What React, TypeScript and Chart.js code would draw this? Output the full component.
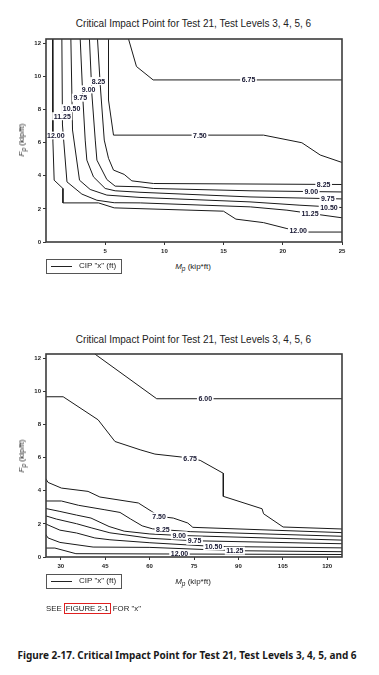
import React, { useEffect, useRef } from "react";
import { Chart, registerables } from "chart.js";
Chart.register(...registerables);

// ---------- shared ----------
const TITLE = "Critical Impact Point for Test 21, Test Levels 3, 4, 5, 6";
const Y_TICKS = [0, 2, 4, 6, 8, 10, 12];
const Y_MAX = 12.25;

// ---------- top chart (Mp 0..25) ----------
const TOP_X_TICKS = [5, 10, 15, 20, 25];
const TOP_X_MIN = 0;
const TOP_X_MAX = 25;
const TOP_L675 = [[6.97, 12.25], [7.64, 10.59], [9.05, 9.78], [25, 9.78]];
const TOP_L750 = [[5.28, 12.25], [5.28, 8.57], [5.7, 6.45], [18.37, 6.45], [21.61, 5.99], [23.16, 5.25], [25, 4.8]];
const TOP_L825 = [[4.35, 12.25], [4.58, 9.48], [4.92, 6.15], [5.28, 5.05], [5.7, 4.34], [6.6, 4.08], [7.25, 3.69], [9.08, 3.53], [25, 3.47]];
const TOP_L900 = [[3.67, 12.25], [3.88, 8.87], [4.16, 6.15], [4.3, 4.94], [5.14, 3.77], [5.84, 3.37], [7.94, 3.33], [9.06, 3.23], [17.23, 3.09], [25, 3.02]];
const TOP_L975 = [[2.89, 12.25], [3.12, 8.57], [3.31, 6.15], [3.45, 4.94], [4.01, 3.93], [5.0, 3.23], [5.84, 3.09], [7.94, 3.0], [17.23, 2.72], [25, 2.6]];
const TOP_L1050 = [[2.1, 12.25], [2.24, 6.76], [2.83, 3.73], [3.73, 3.17], [5.14, 2.83], [7.94, 2.69], [17.23, 2.42], [21.45, 2.22], [25, 2.08]];
const TOP_L1125 = [[1.34, 12.25], [1.39, 7.06], [1.77, 3.63], [3.03, 2.89], [4.3, 2.52], [5.76, 2.37], [7.96, 2.36], [17.25, 2.12], [20.35, 1.92], [25, 1.46]];
const TOP_L1200 = [[0.55, 12.25], [0.58, 6.15], [0.69, 3.73], [1.43, 3.23], [1.43, 2.36], [4.43, 2.36], [5.76, 2.06], [14.99, 1.86], [16.04, 1.38], [18.37, 1.17], [20.35, 0.81], [22.04, 0.6], [25, 0.6]];
const TOP_LINES = [TOP_L675, TOP_L750, TOP_L825, TOP_L900, TOP_L975, TOP_L1050, TOP_L1125, TOP_L1200];
// contour labels: [text, Mp, Fp]
const TOP_LABELS: [string, number, number][] = [
  ["6.75", 17.1, 9.78],
  ["7.50", 13.0, 6.45],
  ["8.25", 4.43, 9.71],
  ["9.00", 3.6, 9.21],
  ["9.75", 2.89, 8.71],
  ["10.50", 2.16, 8.07],
  ["11.25", 1.37, 7.59],
  ["12.00", 0.83, 6.42],
  ["8.25", 23.45, 3.47],
  ["9.00", 22.4, 3.04],
  ["9.75", 23.8, 2.6],
  ["10.50", 23.9, 2.1],
  ["11.25", 22.3, 1.74],
  ["12.00", 21.3, 0.69],
];

// ---------- bottom chart (Mp 25..125) ----------
const BOT_X_TICKS = [30, 45, 60, 75, 90, 105, 120];
const BOT_X_MIN = 25;
const BOT_X_MAX = 125;
const BOT_L600 = [[41.5, 12.25], [62.4, 9.55], [125, 9.55]];
const BOT_L675 = [[24.8, 9.67], [30.8, 9.67], [42.6, 8.28], [48.3, 6.97], [56.8, 6.47], [61.8, 6.21], [70.9, 6.03], [77.1, 5.83], [84.9, 5.05], [84.9, 3.66], [98.0, 2.91], [98.5, 2.61], [105.1, 1.81], [125, 1.69]];
const BOT_L750 = [[24.8, 4.76], [25.7, 4.5], [30.2, 4.16], [39.2, 3.96], [43.2, 3.62], [56.2, 3.26], [60.7, 2.75], [63.2, 2.45], [68.0, 2.35], [72.9, 2.05], [74.6, 1.79], [125, 1.47]];
const BOT_L825 = [[24.8, 3.38], [30.2, 3.38], [36.0, 3.12], [44.9, 2.85], [50.0, 2.69], [53.5, 2.3], [57.5, 1.88], [61.0, 1.7], [64.5, 1.65], [73.7, 1.53], [125, 1.25]];
const BOT_L900 = [[24.8, 2.93], [29.7, 2.75], [35.3, 2.53], [40.2, 2.35], [46.3, 1.84], [51.4, 1.56], [60.1, 1.39], [70.0, 1.3], [125, 1.02]];
const BOT_L975 = [[24.8, 2.49], [28.5, 2.29], [35.3, 2.01], [40.5, 1.75], [46.6, 1.46], [60.1, 1.13], [75.2, 0.98], [125, 0.8]];
const BOT_L1050 = [[24.8, 2.0], [29.7, 1.62], [35.3, 1.45], [41.5, 1.15], [46.6, 1.04], [60.1, 0.86], [81.6, 0.64], [125, 0.55]];
const BOT_L1125 = [[24.8, 1.39], [25.7, 1.15], [29.7, 0.88], [40.9, 0.6], [60.1, 0.58], [88.8, 0.38], [125, 0.32]];
const BOT_L1200 = [[24.8, 0.54], [28.0, 0.54], [35.1, 0.2], [70.1, 0.18], [125, 0.15]];
const BOT_LINES = [BOT_L600, BOT_L675, BOT_L750, BOT_L825, BOT_L900, BOT_L975, BOT_L1050, BOT_L1125, BOT_L1200];
const BOT_LABELS: [string, number, number][] = [
  ["6.00", 78.8, 9.55],
  ["6.75", 73.7, 5.93],
  ["7.50", 63.2, 2.45],
  ["8.25", 64.5, 1.65],
  ["9.00", 70.0, 1.3],
  ["9.75", 75.2, 0.98],
  ["10.50", 81.6, 0.64],
  ["11.25", 88.8, 0.38],
  ["12.00", 70.1, 0.18],
];

const TICK_FONT = { family: '"Liberation Sans", Arial, sans-serif', size: 6, weight: "bold" as const };

function makeConfig(lines: number[][][], labels: [string, number, number][], xMin: number, xMax: number, xTicks: number[], padTop: number, padBottom: number): any {
  const labelPlugin = {
    id: "contourLabels",
    afterDatasetsDraw(chart: any) {
      const { ctx, chartArea: a } = chart;
      const xs = chart.scales.x;
      const ys = chart.scales.y;
      ctx.save();
      ctx.font = 'bold 7px "Liberation Sans", Arial, sans-serif';
      ctx.textAlign = "center";
      ctx.textBaseline = "middle";
      for (const [t, x, y] of labels) {
        const px = xs.getPixelForValue(x);
        const py = ys.getPixelForValue(y);
        const w = ctx.measureText(t).width;
        ctx.fillStyle = "#ffffff";
        ctx.fillRect(px - w / 2 - 1.5, py - 4, w + 3, 8);
        ctx.fillStyle = "#151530";
        ctx.fillText(t, px, py + 0.5);
      }
      ctx.strokeStyle = "#3c3c3c";
      ctx.lineWidth = 1.6;
      ctx.strokeRect(a.left, a.top, a.right - a.left, a.bottom - a.top);
      ctx.restore();
    },
  };
  return {
    type: "scatter",
    data: {
      datasets: lines.map((pts) => ({
        data: pts.map(([x, y]) => ({ x, y })),
        showLine: true,
        borderColor: "#1a1a1a",
        borderWidth: 1,
        pointRadius: 0,
        fill: false,
        tension: 0,
      })),
    },
    options: {
      responsive: false,
      animation: false,
      events: [],
      layout: { padding: { left: 0, right: 37, top: padTop, bottom: padBottom } },
      plugins: { legend: { display: false }, tooltip: { enabled: false }, title: { display: false } },
      scales: {
        x: {
          type: "linear",
          min: xMin,
          max: xMax,
          afterBuildTicks: (s: any) => {
            s.ticks = xTicks.map((v) => ({ value: v }));
          },
          afterFit: (s: any) => {
            s.height = 16;
          },
          border: { display: false },
          grid: { drawOnChartArea: false, drawTicks: true, tickLength: 3, color: "#333" },
          ticks: { font: TICK_FONT, color: "#222", padding: 3, maxRotation: 0, autoSkip: false },
        },
        y: {
          type: "linear",
          min: 0,
          max: Y_MAX,
          afterBuildTicks: (s: any) => {
            s.ticks = Y_TICKS.map((v) => ({ value: v }));
          },
          afterFit: (s: any) => {
            s.width = 46;
          },
          border: { display: false },
          grid: { drawOnChartArea: false, drawTicks: true, tickLength: 3, color: "#333" },
          ticks: { font: TICK_FONT, color: "#222", padding: 2, autoSkip: false },
        },
      },
    },
    plugins: [labelPlugin],
  };
}

const abs = (s: React.CSSProperties): React.CSSProperties => ({ position: "absolute", ...s });

function YTitle({ cy }: { cy: number }) {
  return (
    <div style={abs({ left: 22, top: cy, width: 0, height: 0 })}>
      <div style={abs({ left: 0, top: 0, whiteSpace: "nowrap", fontSize: 8, lineHeight: "10px", transform: "translate(-50%,-50%) rotate(-90deg)" })}>
        <i>F</i>
        <i style={{ fontSize: 6.5, position: "relative", top: 2 }}>p</i> (kip/ft)
      </div>
    </div>
  );
}

function XTitle({ cy }: { cy: number }) {
  return (
    <div style={abs({ left: 193, top: cy, width: 0, height: 0 })}>
      <div style={abs({ left: 0, top: 0, whiteSpace: "nowrap", fontSize: 8, lineHeight: "10px", transform: "translate(-50%,-50%)" })}>
        <i>M</i>
        <i style={{ fontSize: 6.5, position: "relative", top: 2 }}>p</i> (kip*ft)
      </div>
    </div>
  );
}

function LegendBox({ top }: { top: number }) {
  return (
    <div style={abs({ left: 46, top, width: 76, height: 15, border: "1.5px solid #555", boxSizing: "border-box" })}>
      <div style={abs({ left: 4, top: 5.5, width: 21, height: 1, background: "#222" })} />
      <div style={abs({ left: 32, top: 0, height: 12, lineHeight: "12px", fontSize: 8, whiteSpace: "nowrap" })}>CIP "x" (ft)</div>
    </div>
  );
}

function Title({ cy }: { cy: number }) {
  return (
    <div style={abs({ left: 0, width: 387, top: cy - 7, height: 14, lineHeight: "14px", textAlign: "center", fontSize: 10, whiteSpace: "nowrap" })}>{TITLE}</div>
  );
}

export default function App() {
  const c1 = useRef<HTMLCanvasElement>(null);
  const c2 = useRef<HTMLCanvasElement>(null);
  useEffect(() => {
    const ch1 = new Chart(c1.current!, makeConfig(TOP_LINES, TOP_LABELS, TOP_X_MIN, TOP_X_MAX, TOP_X_TICKS, 39, 2));
    const ch2 = new Chart(c2.current!, makeConfig(BOT_LINES, BOT_LABELS, BOT_X_MIN, BOT_X_MAX, BOT_X_TICKS, 34, 7));
    return () => {
      ch1.destroy();
      ch2.destroy();
    };
  }, []);
  return (
    <div style={abs({ left: 0, top: 0, width: 379, height: 675, background: "#fff", overflow: "hidden", fontFamily: '"Liberation Sans", Arial, sans-serif', color: "#222" })}>
      <Title cy={24} />
      <canvas ref={c1} width={379} height={260} style={abs({ left: 0, top: 0, width: 379, height: 260 })} />
      <YTitle cy={140} />
      <XTitle cy={267} />
      <LegendBox top={259} />

      <Title cy={339.5} />
      <canvas ref={c2} width={379} height={260} style={abs({ left: 0, top: 320, width: 379, height: 260 })} />
      <YTitle cy={455.5} />
      <XTitle cy={582} />
      <LegendBox top={574} />

      <div style={abs({ left: 46, top: 603, height: 12, lineHeight: "12px", fontSize: 7.8, whiteSpace: "nowrap" })}>
        SEE <span style={{ border: "1px solid #e02020", padding: "0 1px" }}>FIGURE 2-1</span> FOR "x"
      </div>
      <div style={abs({ left: 0, width: 374, top: 648, height: 14, lineHeight: "14px", textAlign: "center", fontSize: 10, fontWeight: "bold", fontFamily: '"Noto Sans", sans-serif', color: "#1a1a1a", whiteSpace: "nowrap" })}>
        Figure 2-17. Critical Impact Point for Test 21, Test Levels 3, 4, 5, and 6
      </div>
    </div>
  );
}
